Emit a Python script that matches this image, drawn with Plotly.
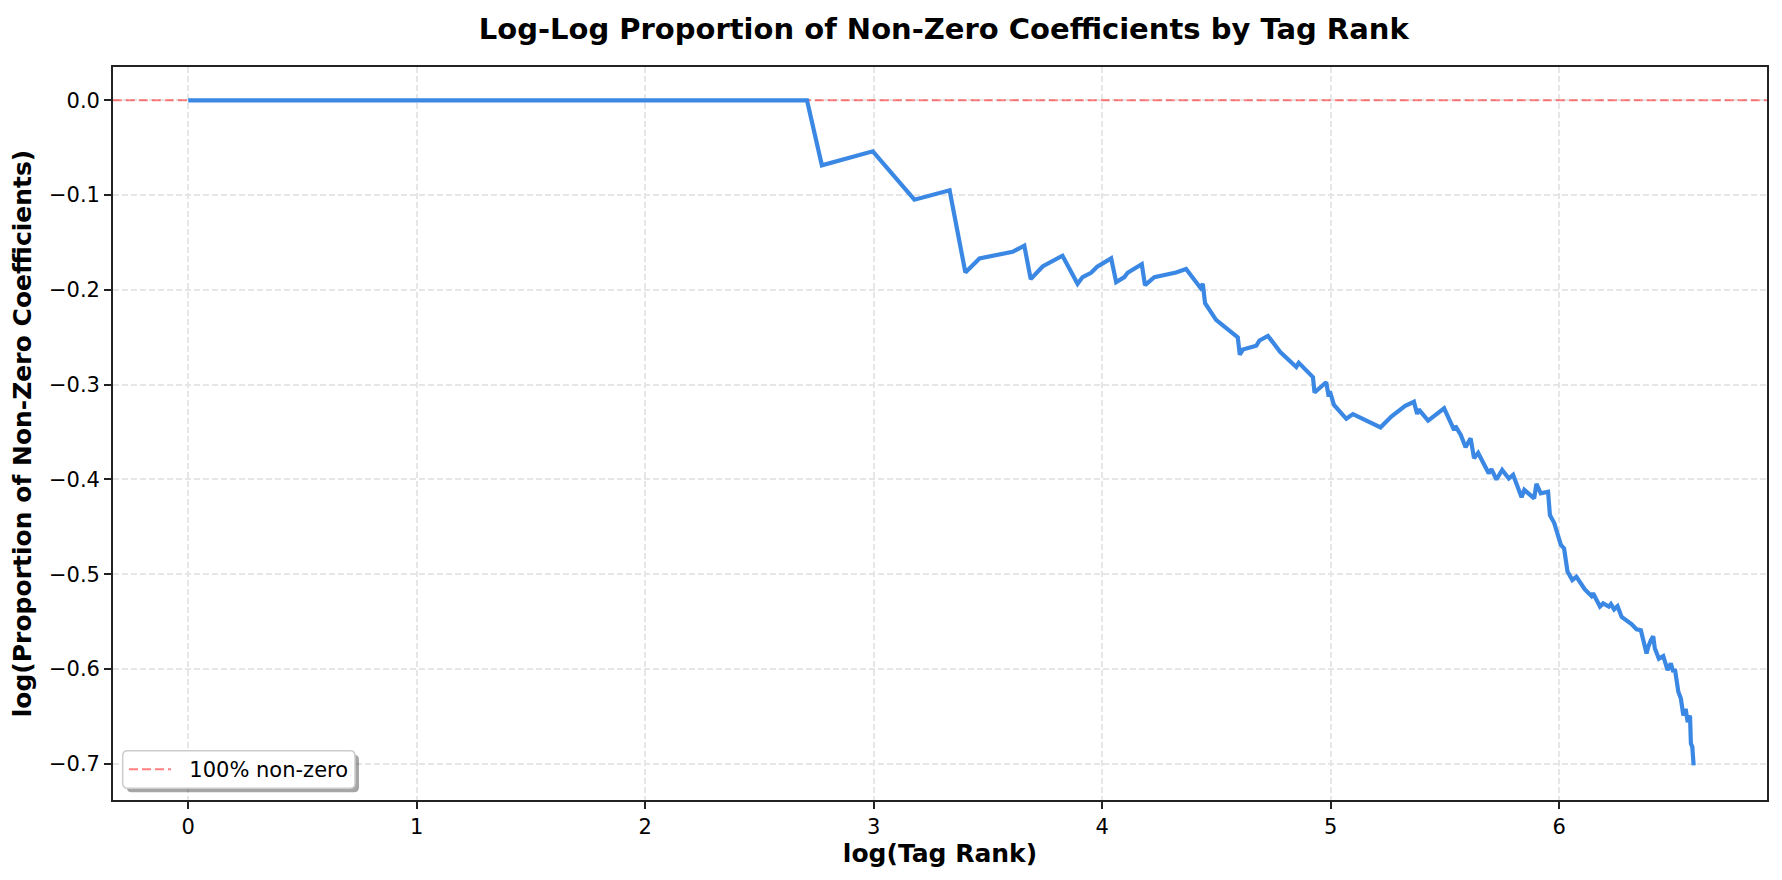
import plotly.graph_objects as go

# log(Tag Rank)
log_rank = [
    0.0, 2.708, 2.773, 2.996, 3.178, 3.332, 3.401, 3.463, 3.608, 3.659,
    3.687, 3.739, 3.826, 3.892, 3.914, 3.951, 3.978, 4.039, 4.061, 4.097,
    4.111, 4.173, 4.187, 4.228, 4.323, 4.367, 4.430, 4.440, 4.450, 4.498,
    4.593, 4.602, 4.615, 4.674, 4.688, 4.725, 4.779, 4.849, 4.860, 4.922,
    4.929, 4.951, 4.980, 4.991, 4.996, 5.014, 5.068, 5.097, 5.218, 5.265,
    5.326, 5.364, 5.378, 5.385, 5.426, 5.496, 5.520, 5.540, 5.545, 5.569,
    5.590, 5.612, 5.627, 5.645, 5.691, 5.703, 5.725, 5.750, 5.779, 5.798,
    5.835, 5.847, 5.890, 5.900, 5.919, 5.951, 5.959, 5.978, 6.007, 6.021,
    6.036, 6.057, 6.075, 6.112, 6.141, 6.148, 6.178, 6.192, 6.217, 6.226,
    6.240, 6.255, 6.273, 6.316, 6.338, 6.357, 6.382, 6.389, 6.401, 6.411,
    6.418, 6.436, 6.455, 6.474, 6.488, 6.499, 6.506, 6.521, 6.532, 6.543,
    6.553, 6.562, 6.572, 6.576, 6.582, 6.588,
]

# log(Proportion of Non-Zero Coefficients)
log_prop = [
    0.0, 0.0, -0.0686, -0.0538, -0.1049, -0.0950, -0.1816, -0.1668, -0.1598, -0.1534,
    -0.1886, -0.1753, -0.1640, -0.1936, -0.1865, -0.1820, -0.1755, -0.1668, -0.1918, -0.1865,
    -0.1820, -0.1728, -0.1950, -0.1865, -0.1816, -0.1780, -0.1980, -0.1936, -0.2140, -0.2316,
    -0.2500, -0.2685, -0.2630, -0.2590, -0.2534, -0.2485, -0.2655, -0.2813, -0.2770, -0.2920,
    -0.3083, -0.3037, -0.2974, -0.3125, -0.3070, -0.3213, -0.3360, -0.3310, -0.3450, -0.3336,
    -0.3224, -0.3180, -0.3310, -0.3260, -0.3380, -0.3250, -0.3390, -0.3480, -0.3435, -0.3530,
    -0.3660, -0.3565, -0.3776, -0.3720, -0.3935, -0.3890, -0.4000, -0.3900, -0.3990, -0.3950,
    -0.4188, -0.4110, -0.4200, -0.4047, -0.4146, -0.4130, -0.4375, -0.4460, -0.4690, -0.4727,
    -0.4970, -0.5060, -0.5026, -0.5160, -0.5230, -0.5200, -0.5340, -0.5307, -0.5340, -0.5315,
    -0.5370, -0.5336, -0.5450, -0.5526, -0.5580, -0.5590, -0.5835, -0.5766, -0.5695, -0.5655,
    -0.5780, -0.5890, -0.5864, -0.6010, -0.5940, -0.6030, -0.6000, -0.6240, -0.6310, -0.6490,
    -0.6420, -0.6560, -0.6490, -0.6786, -0.6820, -0.7015,
]

x_tick_vals = [0, 1, 2, 3, 4, 5, 6]
y_tick_vals = [0.0, -0.1, -0.2, -0.3, -0.4, -0.5, -0.6, -0.7]
y_tick_text = ["0.0", "\u22120.1", "\u22120.2", "\u22120.3", "\u22120.4", "\u22120.5", "\u22120.6", "\u22120.7"]

FONT = "DejaVu Sans"
OFF = 8  # default page body margin
W, H = 1782 - OFF, 880 - OFF
ML, MR, MT, MB = 113 - OFF, 15, 67 - OFF, 80
pw, ph = W - ML - MR, H - MT - MB


def px_to_paper(page_x, page_y):
    fx, fy = page_x - OFF, page_y - OFF
    return (fx - ML) / pw, (H - MB - fy) / ph


fig = go.Figure()

# reference line at 0 (100% non-zero)
fig.add_trace(go.Scatter(
    x=[-0.33, 6.92], y=[0, 0], mode="lines",
    line=dict(color="rgba(255,0,0,0.5)", width=2, dash="9px,4px"),
    name="\u00a0\u00a0100% non-zero\u00a0", showlegend=True,
))

fig.add_trace(go.Scatter(
    x=log_rank, y=log_prop, mode="lines",
    line=dict(color="#3a88e4", width=4.2),
    showlegend=False, name="proportion",
))

axis_common = dict(
    showline=True, mirror=True, linecolor="#222222", linewidth=1.7,
    ticks="outside", ticklen=7, tickwidth=1.7, tickcolor="#222222",
    showgrid=True, gridcolor="#e6e6e6", gridwidth=1.5, griddash="6px,3px",
    zeroline=False,
    tickfont=dict(family=FONT, size=21, color="#000000"),
)

lx, ly = px_to_paper(124, 769.5)
fig.update_layout(
    width=W, height=H,
    margin=dict(l=ML, r=MR, t=MT, b=MB),
    paper_bgcolor="white", plot_bgcolor="white",
    title=dict(
        text="<b>Log-Log Proportion of Non-Zero Coefficients by Tag Rank</b>",
        font=dict(family=FONT, size=29, color="#000000"),
        x=0.5275, xanchor="center", y=1 - 21 / H, yanchor="middle",
    ),
    xaxis=dict(
        range=[-0.329, 6.909], tickvals=x_tick_vals,
        title=dict(text="<b>log(Tag Rank)</b>", font=dict(family=FONT, size=25, color="#000000"), standoff=3),
        **axis_common,
    ),
    yaxis=dict(
        range=[-0.7381, 0.0351], tickvals=y_tick_vals, ticktext=y_tick_text,
        title=dict(text="<b>log(Proportion of Non-Zero Coefficients)</b>", font=dict(family=FONT, size=25, color="#000000"), standoff=10),
        **axis_common,
    ),
    legend=dict(
        x=lx, y=ly, xanchor="left", yanchor="middle",
        bgcolor="rgba(0,0,0,0)", borderwidth=0, itemwidth=42,
        font=dict(family=FONT, size=21, color="#000000"),
    ),
)


def rounded_rect(x0, y0, x1, y1, r=5):
    # page pixel corners -> paper path with rounded corners
    def p(x, y):
        a, b = px_to_paper(x, y)
        return f"{a:.6f},{b:.6f}"
    return (f"M{p(x0 + r, y0)} L{p(x1 - r, y0)} Q{p(x1, y0)} {p(x1, y0 + r)} "
            f"L{p(x1, y1 - r)} Q{p(x1, y1)} {p(x1 - r, y1)} L{p(x0 + r, y1)} "
            f"Q{p(x0, y1)} {p(x0, y1 - r)} L{p(x0, y0 + r)} Q{p(x0, y0)} {p(x0 + r, y0)} Z")


# legend frame: shadow then box
fig.add_shape(type="path", xref="paper", yref="paper",
              path=rounded_rect(126.7, 754.7, 359, 792.3),
              fillcolor="rgba(0,0,0,0.35)", line=dict(width=0), layer="above")
fig.add_shape(type="path", xref="paper", yref="paper",
              path=rounded_rect(122.7, 750.7, 355, 788.3),
              fillcolor="white", line=dict(color="#cccccc", width=1.5), layer="above")

fig.write_html("out.html")
